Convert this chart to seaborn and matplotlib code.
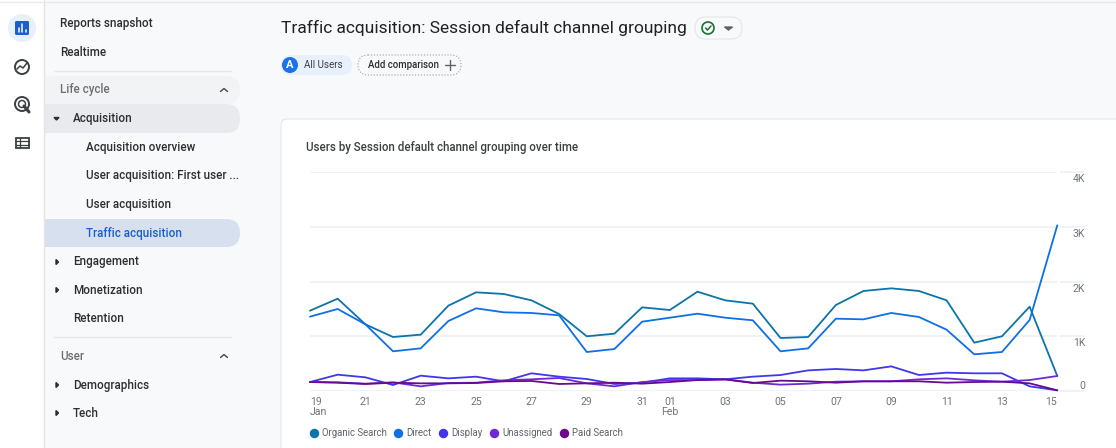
import pandas as pd
import seaborn as sns
import matplotlib.pyplot as plt
from matplotlib.lines import Line2D
from matplotlib.patches import Circle, FancyBboxPatch, Rectangle
from matplotlib.transforms import ScaledTranslation

W, H = 1116, 448

# values, one per day
dates = pd.date_range('2024-01-19', '2024-02-15', freq='D')
organic = [1467, 1686, 1218, 986, 1029, 1559, 1802, 1772, 1656, 1406, 999, 1047, 1528, 1479,
           1814, 1656, 1595, 968, 986, 1571, 1827, 1875, 1827, 1656, 883, 999, 1540, 274]
direct = [1358, 1498, 1218, 725, 779, 1279, 1510, 1437, 1425, 1382, 712, 767, 1266, 1339,
          1412, 1339, 1291, 725, 779, 1321, 1309, 1425, 1352, 1120, 670, 712, 1297, 3026]
display = [164, 298, 250, 110, 280, 231, 262, 177, 323, 262, 219, 128, 152, 231,
           231, 213, 262, 292, 377, 402, 377, 450, 292, 335, 323, 323, 85, 12]
unassigned = [164, 158, 134, 158, 85, 146, 152, 195, 213, 237, 140, 85, 164, 200,
              200, 213, 152, 116, 134, 170, 177, 177, 213, 231, 195, 170, 200, 274]
paid = [164, 152, 128, 152, 140, 140, 146, 177, 183, 128, 140, 152, 134, 164,
        200, 213, 146, 189, 177, 152, 177, 177, 177, 152, 164, 170, 140, 12]

channels = ['Organic Search', 'Direct', 'Display', 'Unassigned', 'Paid Search']
colors = ['#0b74a8', '#0f6fe6', '#4136ee', '#6c2bd2', '#690a8c']
yticks = [0, 1000, 2000, 3000, 4000]
ylabels = ['0', '1K', '2K', '3K', '4K']
xlabels = ['19\nJan', '21', '23', '25', '27', '29', '31', '01\nFeb',
           '03', '05', '07', '09', '11', '13', '15']

sns.set_theme(style='white')
plt.rcParams['font.family'] = ['Roboto', 'DejaVu Sans']

fig = plt.figure(figsize=(W / 100, H / 100), dpi=100, facecolor='#f8f9fa')

# page furniture, drawn in pixel coordinates
ui = fig.add_axes([0, 0, 1, 1], zorder=0)
ui.set_xlim(0, W)
ui.set_ylim(H, 0)
ui.axis('off')


def pill(x0, y0, x1, y1, color, edge='none', r=14, ls='-', z=1):
    ui.add_patch(FancyBboxPatch((x0 + r, y0 + r), x1 - x0 - 2 * r, y1 - y0 - 2 * r,
                                boxstyle=f'round,pad={r},rounding_size={r}',
                                fc=color, ec=edge, lw=0.8, ls=ls, zorder=z))


# card
pill(281, 119, 1300, 700, 'white', edge='#e4e6e8', r=6)

# sidebar highlights
pill(20, 76, 240, 104, '#f1f3f4')
pill(20, 104, 240, 133, '#e8eaed', z=1.1)
pill(20, 219, 240, 247, '#d6e0ee')

# icon rail
ui.add_patch(Rectangle((0, 0), 44, H, fc='white', ec='none', zorder=2))
ui.plot([44, 44], [0, H], color='#e2e4e6', lw=1, zorder=3)
ui.plot([0, W], [2, 2], color='#e8eaed', lw=1, zorder=3)
ui.plot([54, 231], [71, 71], color='#e6e8ea', lw=1, zorder=3)
ui.plot([54, 231], [337, 337], color='#e6e8ea', lw=1, zorder=3)

ui.add_patch(Circle((22, 28), 14, fc='#e8f0fe', ec='none', zorder=3))
pill(15, 21, 29, 35, '#1a5fd0', r=1.5, z=4)
for bx, top in [(18.5, 28), (22, 24), (25.5, 30)]:
    ui.plot([bx, bx], [top, 32], color='white', lw=1.1, zorder=5)
ui.add_patch(Circle((22, 67), 7, fc='none', ec='#3c4043', lw=1.4, zorder=3))
ui.plot([17, 20, 23, 27], [69, 66, 68, 63], color='#3c4043', lw=1.1, zorder=3)
ui.add_patch(Circle((22, 104), 7, fc='none', ec='#3c4043', lw=1.4, zorder=3))
ui.add_patch(Circle((22, 104), 3.5, fc='none', ec='#3c4043', lw=1.1, zorder=3))
ui.plot([24, 29], [106, 112], color='#3c4043', lw=2.2, zorder=4)
ui.add_patch(Rectangle((16, 138), 13, 10, fc='none', ec='#3c4043', lw=1.3, zorder=3))
ui.plot([16, 29], [141.5, 141.5], color='#3c4043', lw=0.9, zorder=3)
ui.plot([16, 29], [145, 145], color='#3c4043', lw=0.9, zorder=3)
ui.plot([20, 20], [138, 148], color='#3c4043', lw=0.9, zorder=3)

# sidebar text
dark = '#2b2e33'
grey = '#6b6f75'
nav = [(60.5, 23.5, 'Reports snapshot', dark), (60.5, 52.5, 'Realtime', dark),
       (60.5, 90, 'Life cycle', grey), (73, 118.5, 'Acquisition', dark),
       (86, 147.5, 'Acquisition overview', dark), (86, 176, 'User acquisition: First user ...', dark),
       (86, 204.5, 'User acquisition', dark), (86, 233.5, 'Traffic acquisition', '#1a5fd0'),
       (73, 262, 'Engagement', dark), (73, 290.5, 'Monetization', dark), (73, 319, 'Retention', dark),
       (60.5, 356.5, 'User', grey), (73, 385, 'Demographics', dark), (73, 413.5, 'Tech', dark)]
for nx, ny, label, col in nav:
    ui.text(nx, ny, label, color=col, fontsize=8.4, fontweight=500, va='center', zorder=6)

# arrows in the sidebar
ui.fill([54, 59, 56.5], [117.5, 117.5, 120], color=dark, zorder=6)
for ay in [262, 290, 385, 413]:
    ui.fill([56, 56, 58.5], [ay - 2.5, ay + 2.5, ay], color=dark, zorder=6)
for ay in [90, 356]:
    ui.plot([220.5, 224, 227.5], [ay + 1.5, ay - 1.5, ay + 1.5], color='#45484d', lw=1, zorder=6)

# header
ui.text(281, 28, 'Traffic acquisition: Session default channel grouping', color='#202124',
        fontsize=12.5, va='center', zorder=6)
pill(695, 17, 742, 39, '#f8f9fa', edge='#e4e6e8', r=10.5)
ui.add_patch(Circle((708, 28), 6, fc='none', ec='#137333', lw=1.2, zorder=6))
ui.plot([705.5, 707.5, 711], [28, 30, 26], color='#137333', lw=1.1, zorder=6)
ui.fill([724.5, 732.5, 728.5], [27, 27, 30], color='#5f6368', zorder=6)

pill(281, 55, 352, 75, '#e8f0fe', r=10)
ui.add_patch(Circle((290, 65), 8, fc='#1a73e8', ec='none', zorder=6))
ui.text(290, 65, 'A', color='white', fontsize=8, fontweight='bold', ha='center', va='center', zorder=7)
ui.text(304, 64.5, 'All Users', color='#3c4043', fontsize=7.1, va='center', zorder=6)
pill(358, 55, 461, 75, '#f8f9fa', edge='#9aa0a6', r=10, ls=':')
ui.text(368, 64.5, 'Add comparison', color='#2b2e33', fontsize=6.9, fontweight=500, va='center', zorder=6)
ui.plot([445, 455], [65, 65], color='#5f6368', lw=1, zorder=6)
ui.plot([450, 450], [60, 70], color='#5f6368', lw=1, zorder=6)

ui.text(306, 147, 'Users by Session default channel grouping over time', color='#3c4043',
        fontsize=8.3, fontweight=500, va='center', zorder=6)

# chart
ax = fig.add_axes([310 / W, 1 - 391 / H, 747.3 / W, 219 / H], zorder=2)
ax.patch.set_alpha(0)

series = {'Organic Search': organic, 'Direct': direct, 'Display': display,
          'Unassigned': unassigned, 'Paid Search': paid}
df = pd.DataFrame(series, index=dates).rename_axis('date').reset_index()
df = df.melt(id_vars='date', var_name='channel', value_name='users')

sns.lineplot(data=df, x='date', y='users', hue='channel', hue_order=channels,
             palette=colors, linewidth=1.3, legend=False, clip_on=False, ax=ax, zorder=4)

ax.set_xlim(dates[0], dates[-1])
ax.set_ylim(0, 4000)
ax.set_xlabel('')
ax.set_ylabel('')
sns.despine(ax=ax, left=True, right=True, top=True, bottom=True)

grid_color = '#f1f2f3'
ax.set_yticks(yticks, ylabels)
ax.yaxis.tick_right()
ax.tick_params(axis='y', length=0, pad=20, labelsize=7.6, labelcolor='#70757a')
nudge = ScaledTranslation(0, -2 / 100, fig.dpi_scale_trans)
for tick, val in zip(ax.get_yticklabels(), yticks):
    tick.set_ha('right')
    tick.set_va('bottom' if val == 0 else 'top')
    if val != 0:
        tick.set_transform(tick.get_transform() + nudge)
ax.hlines(yticks, 0, 1, transform=ax.get_yaxis_transform(), color=grid_color, lw=1.4, zorder=1)
ax.hlines(yticks, 1.004, 1.036, transform=ax.get_yaxis_transform(), color=grid_color, lw=1.4,
          clip_on=False, zorder=1)

xticks = list(pd.date_range('2024-01-19', '2024-01-31', freq='2D'))
xticks += [pd.Timestamp('2024-02-01')] + list(pd.date_range('2024-02-03', '2024-02-15', freq='2D'))
ax.set_xticks(xticks, xlabels)
ax.tick_params(axis='x', length=0, pad=4.5, labelsize=7.6, labelcolor='#70757a')
labels = ax.get_xticklabels()
labels[0].set_ha('left')
labels[-1].set_ha('right')
for lab in labels:
    lab.set_linespacing(1.0)

handles = [Line2D([], [], ls='none', marker='o', ms=5.8, color=c, label=n)
           for n, c in zip(channels, colors)]
ax.legend(handles=handles, ncols=5, frameon=False, loc='upper left',
          bbox_to_anchor=(1 / 747.3, -37 / 219), borderaxespad=0, borderpad=0,
          handlelength=0.6, handletextpad=0.55, columnspacing=0.9,
          labelcolor='#5f6368', fontsize=6.9)

fig.savefig('out.png', dpi=100, facecolor=fig.get_facecolor())
